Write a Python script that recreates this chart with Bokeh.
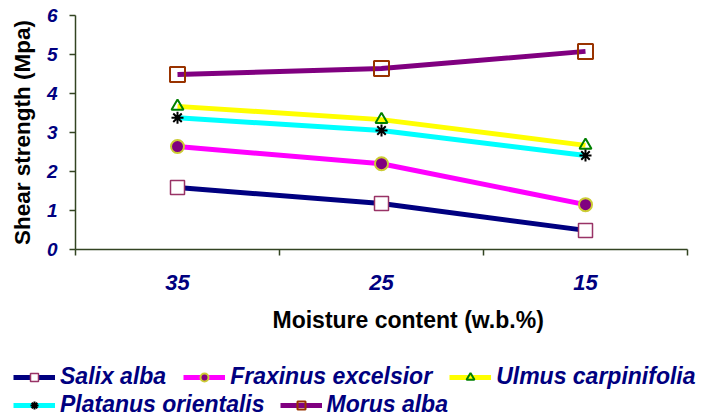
from bokeh.plotting import figure
from bokeh.layouts import column
from bokeh.models import (Range1d, FixedTicker, Legend, LegendItem, Title)
from bokeh.embed import file_html
from bokeh.resources import INLINE

moisture = ["35", "25", "15"]
salix = [1.59, 1.18, 0.49]
fraxinus = [2.64, 2.20, 1.15]
ulmus = [3.67, 3.33, 2.67]
platanus = [3.38, 3.05, 2.41]
morus = [4.49, 4.64, 5.08]
y_ticks = [0, 1, 2, 3, 4, 5, 6]

FONT = "Liberation Sans"
NAVY = "#000080"
AXIS = "#334422"

xs = [i + 0.5 for i in range(len(moisture))]

p = figure(width=708, height=352, output_backend="svg", toolbar_location=None,
           x_range=Range1d(0, len(moisture)), y_range=Range1d(0, 6),
           min_border_left=75, min_border_right=21, min_border_top=15,
           min_border_bottom=103)
p.frame_align = False
p.grid.visible = False
p.outline_line_color = None
p.background_fill_color = "white"
p.border_fill_color = "white"

# x axis
xa = p.xaxis[0]
xa.ticker = FixedTicker(ticks=xs, minor_ticks=list(range(len(moisture) + 1)))
xa.major_label_overrides = {x: m for x, m in zip(xs, moisture)}
xa.major_tick_out = 0
xa.major_tick_in = 0
xa.minor_tick_out = 6
xa.minor_tick_in = 0
xa.minor_tick_line_color = AXIS
xa.minor_tick_line_width = 1.5
xa.axis_line_color = AXIS
xa.axis_line_width = 1.5
xa.major_label_standoff = 19
xa.major_label_text_font = FONT
xa.major_label_text_font_style = "bold italic"
xa.major_label_text_font_size = "22px"
xa.major_label_text_color = NAVY

# y axis
ya = p.yaxis[0]
ya.ticker = FixedTicker(ticks=y_ticks, minor_ticks=[])
ya.major_tick_out = 6
ya.major_tick_in = 0
ya.major_tick_line_color = AXIS
ya.major_tick_line_width = 1.5
ya.axis_line_color = AXIS
ya.axis_line_width = 1.5
ya.major_label_standoff = 12
ya.major_label_text_font = FONT
ya.major_label_text_font_style = "bold italic"
ya.major_label_text_font_size = "19px"
ya.major_label_text_color = NAVY
ya.axis_label = "Shear strength (Mpa)"
ya.axis_label_text_font = FONT
ya.axis_label_text_font_style = "bold"
ya.axis_label_text_font_size = "22.5px"
ya.axis_label_text_color = "black"
ya.axis_label_standoff = 9

series = [
    ("Salix alba", salix, NAVY, dict(marker="square", size=14, fill_color="white",
                                     line_color="#993366", line_width=1.5)),
    ("Fraxinus excelsior", fraxinus, "#FF00FF", dict(marker="circle", size=13, fill_color="#800080",
                                                     line_color="#CCCC33", line_width=2)),
    ("Ulmus carpinifolia", ulmus, "#FFFF00", dict(marker="triangle", size=12, fill_alpha=0,
                                                  line_color="#008000", line_width=2)),
    ("Platanus orientalis", platanus, "#00FFFF", dict(marker="asterisk", size=12,
                                                      line_color="black", line_width=2)),
    ("Morus alba", morus, "#800080", dict(marker="square", size=15, fill_alpha=0,
                                          line_color="#993300", line_width=2)),
]

for name, vals, col, mk in series:
    p.line(xs, vals, line_color=col, line_width=5)
    p.scatter(xs, vals, **mk)

xtitle = Title(text="Moisture content (w.b.%)", align="left", offset=197,
               text_font=FONT, text_font_style="bold", text_font_size="23px",
               text_color="black", standoff=24)
p.add_layout(xtitle, "below")

# legend strip below the chart (same series, drawn outside its visible range)
p2 = figure(width=708, height=68, output_backend="svg", toolbar_location=None,
            x_range=Range1d(0, len(moisture)), y_range=Range1d(100, 101),
            x_axis_type=None, y_axis_type=None,
            min_border_left=0, min_border_right=0, min_border_top=0,
            min_border_bottom=0)
p2.frame_align = False
p2.grid.visible = False
p2.outline_line_color = None
p2.background_fill_color = "white"
p2.border_fill_color = "white"

items = []
for name, vals, col, mk in series:
    r1 = p2.line(xs, vals, line_color=col, line_width=5)
    r2 = p2.scatter(xs, vals, **mk)
    items.append(LegendItem(label=name, renderers=[r1, r2]))

def mk_legend(its, loc, spacing):
    return Legend(items=its, orientation="horizontal", location=loc,
                  glyph_width=42, glyph_height=20, label_standoff=5, spacing=spacing,
                  padding=2, margin=0, border_line_color=None,
                  background_fill_alpha=0,
                  label_text_font=FONT, label_text_font_style="bold italic",
                  label_text_font_size="23px", label_text_color=NAVY,
                  label_height=24)

p2.add_layout(mk_legend(items[:3], (13, 30), 17))
p2.add_layout(mk_legend(items[3:], (13, 2), 15))

layout = column(p, p2, spacing=0)
open("out.html", "w").write(file_html(layout, INLINE))
